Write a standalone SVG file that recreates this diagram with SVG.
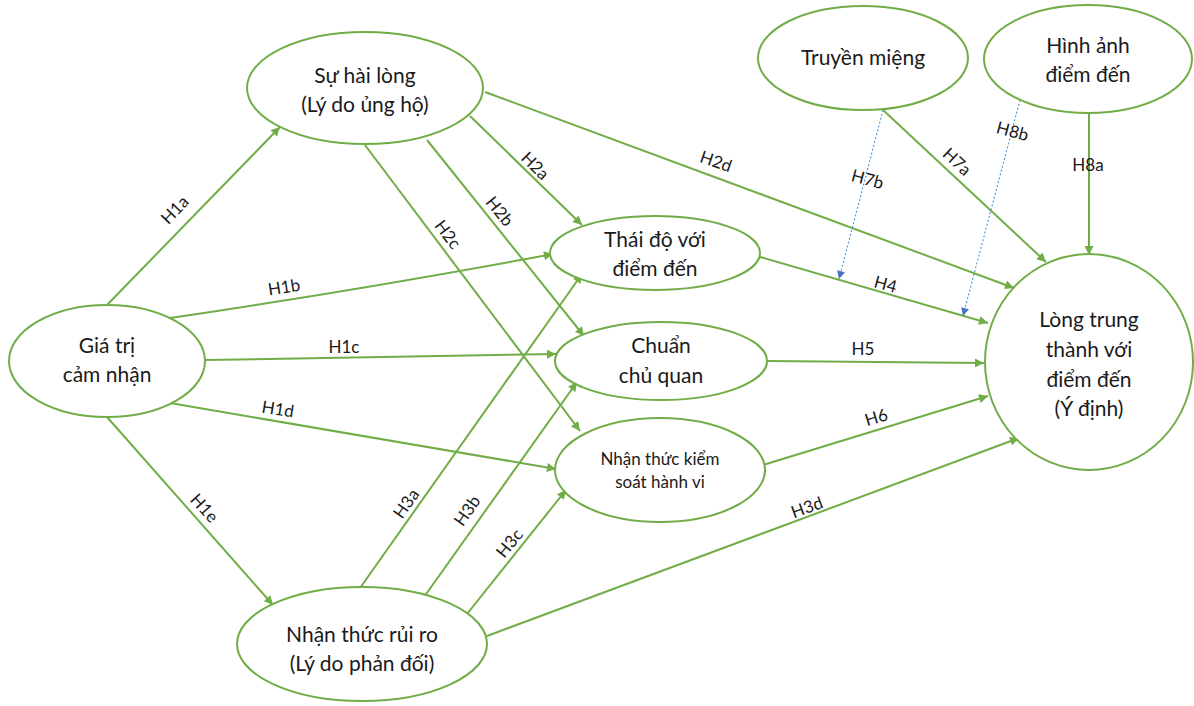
<svg xmlns="http://www.w3.org/2000/svg" width="1194" height="706" viewBox="0 0 1194 706">
  <defs>
    <marker id="arrow" viewBox="0 0 10 10" refX="10" refY="5" markerWidth="10" markerHeight="9" markerUnits="userSpaceOnUse" orient="auto">
      <path d="M0,0 L10,5 L0,10 z" fill="#70AD47"/>
    </marker>
    <marker id="arrowBlue" viewBox="0 0 10 10" refX="10" refY="5" markerWidth="9" markerHeight="8" markerUnits="userSpaceOnUse" orient="auto">
      <path d="M0,0 L10,5 L0,10 z" fill="#4472C4"/>
    </marker>
    <style>
      .node ellipse { fill: #ffffff; stroke: #70AD47; stroke-width: 2; }
      .node text { font-family: Lato, "Open Sans", "Liberation Sans", sans-serif; font-size: 21px; fill: #1a1a1a; text-anchor: middle; }
      .node text.small { font-size: 17px; }
      .edge { fill: none; stroke: #70AD47; stroke-width: 2; marker-end: url(#arrow); }
      .dot { fill: none; stroke: #5B9BD5; stroke-width: 1.2; stroke-dasharray: 2 2; marker-end: url(#arrowBlue); }
      .lbl { font-family: Lato, "Open Sans", "Liberation Sans", sans-serif; font-size: 17px; fill: #1a1a1a; text-anchor: middle; }
    </style>
  </defs>

  <!-- connectors -->
  <g id="connectors">
    <line class="edge" x1="107" y1="305" x2="280" y2="127"/>
    <path class="edge" d="M170,318 Q360,290 553,254"/>
    <line class="edge" x1="205" y1="360" x2="556" y2="354"/>
    <line class="edge" x1="170" y1="403" x2="556" y2="469"/>
    <line class="edge" x1="107" y1="417" x2="273" y2="605"/>

    <line class="edge" x1="470" y1="116" x2="582" y2="225"/>
    <line class="edge" x1="427" y1="140" x2="584" y2="336"/>
    <line class="edge" x1="365" y1="145" x2="580" y2="431"/>
    <line class="edge" x1="485" y1="92" x2="1014" y2="288"/>

    <line class="edge" x1="360" y1="588" x2="582" y2="274"/>
    <line class="edge" x1="424" y1="597" x2="577" y2="382"/>
    <line class="edge" x1="467" y1="614" x2="566" y2="490"/>
    <line class="edge" x1="487" y1="636" x2="1019" y2="438"/>

    <line class="edge" x1="760" y1="257" x2="988" y2="323"/>
    <line class="edge" x1="767" y1="361" x2="984" y2="363"/>
    <line class="edge" x1="763" y1="465" x2="988" y2="396"/>

    <line class="edge" x1="883" y1="110" x2="1046" y2="262"/>
    <line class="edge" x1="1089" y1="113" x2="1089" y2="255"/>

    <line class="dot" x1="883" y1="110" x2="839" y2="279"/>
    <line class="dot" x1="1020" y1="100" x2="963" y2="316"/>
  </g>

  <!-- connector labels -->
  <g id="labels">
    <text class="lbl" transform="translate(179,214) rotate(-46)">H1a</text>
    <text class="lbl" transform="translate(285,293) rotate(-9)">H1b</text>
    <text class="lbl" transform="translate(344,353)">H1c</text>
    <text class="lbl" transform="translate(277,415) rotate(9)">H1d</text>
    <text class="lbl" transform="translate(200,512) rotate(48)">H1e</text>
    <text class="lbl" transform="translate(531,170) rotate(45)">H2a</text>
    <text class="lbl" transform="translate(495,215) rotate(51)">H2b</text>
    <text class="lbl" transform="translate(443,238) rotate(53)">H2c</text>
    <text class="lbl" transform="translate(714,167) rotate(19)">H2d</text>
    <text class="lbl" transform="translate(411,507) rotate(-55)">H3a</text>
    <text class="lbl" transform="translate(472,514) rotate(-55)">H3b</text>
    <text class="lbl" transform="translate(514,547) rotate(-51)">H3c</text>
    <text class="lbl" transform="translate(809,513) rotate(-20)">H3d</text>
    <text class="lbl" transform="translate(884,290) rotate(15)">H4</text>
    <text class="lbl" transform="translate(863,355)">H5</text>
    <text class="lbl" transform="translate(878,423) rotate(-17)">H6</text>
    <text class="lbl" transform="translate(953,166) rotate(43)">H7a</text>
    <text class="lbl" transform="translate(866,185) rotate(15)">H7b</text>
    <text class="lbl" transform="translate(1088,171)">H8a</text>
    <text class="lbl" transform="translate(1011,137) rotate(15)">H8b</text>
  </g>

  <!-- nodes -->
  <g id="su-hai-long" class="node">
    <ellipse cx="365" cy="88" rx="118" ry="56"/>
    <text x="365" y="83">Sự hài lòng</text>
    <text x="365" y="112">(Lý do ủng hộ)</text>
  </g>
  <g id="gia-tri-cam-nhan" class="node">
    <ellipse cx="107" cy="361" rx="98" ry="56"/>
    <text x="107" y="353">Giá trị</text>
    <text x="107" y="382">cảm nhận</text>
  </g>
  <g id="nhan-thuc-rui-ro" class="node">
    <ellipse cx="362" cy="644" rx="125" ry="57"/>
    <text x="362" y="642">Nhận thức rủi ro</text>
    <text x="362" y="671">(Lý do phản đối)</text>
  </g>
  <g id="thai-do" class="node">
    <ellipse cx="655" cy="253" rx="105" ry="37"/>
    <text x="655" y="247">Thái độ với</text>
    <text x="655" y="276">điểm đến</text>
  </g>
  <g id="chuan-chu-quan" class="node">
    <ellipse cx="661" cy="361" rx="106" ry="39"/>
    <text x="661" y="353">Chuẩn</text>
    <text x="661" y="383">chủ quan</text>
  </g>
  <g id="nhan-thuc-kiem-soat" class="node">
    <ellipse cx="660" cy="470" rx="105" ry="52"/>
    <text class="small" x="660" y="465">Nhận thức kiểm</text>
    <text class="small" x="660" y="488">soát hành vi</text>
  </g>
  <g id="truyen-mieng" class="node">
    <ellipse cx="863" cy="58" rx="105" ry="52"/>
    <text x="863" y="65">Truyền miệng</text>
  </g>
  <g id="hinh-anh" class="node">
    <ellipse cx="1088" cy="59" rx="104" ry="54"/>
    <text x="1088" y="53">Hình ảnh</text>
    <text x="1088" y="82">điểm đến</text>
  </g>
  <g id="long-trung-thanh" class="node">
    <ellipse cx="1089" cy="362" rx="104" ry="108"/>
    <text x="1089" y="327">Lòng trung</text>
    <text x="1089" y="357">thành với</text>
    <text x="1089" y="387">điểm đến</text>
    <text x="1089" y="416">(Ý định)</text>
  </g>
</svg>
